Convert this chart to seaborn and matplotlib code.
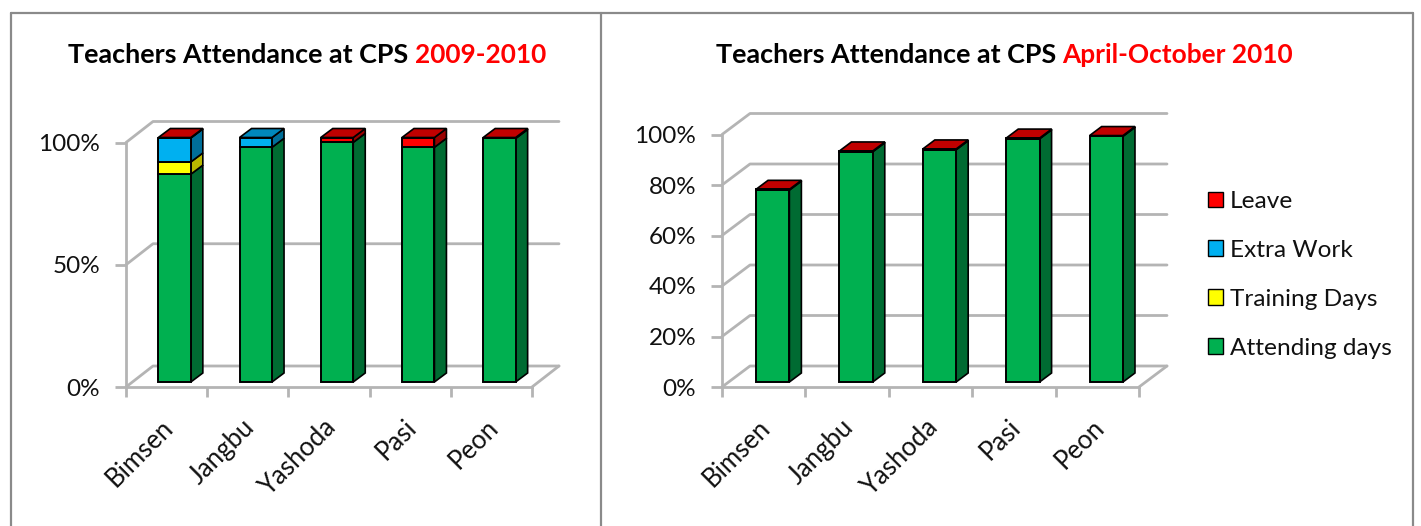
import matplotlib
matplotlib.use("Agg")
import matplotlib.pyplot as plt
import seaborn as sns
import numpy as np
from matplotlib.lines import Line2D
from matplotlib.patches import Polygon, Patch

W, H = 1421, 526

names = ["Bimsen", "Jangbu", "Yashoda", "Pasi", "Peon"]
series = ["Attending days", "Training Days", "Extra Work", "Leave"]

# first chart, 2009-2010
att_a = [85, 96, 98, 96, 99.6]
train_a = [5, 0, 0, 0, 0]
extra_a = [9.8, 4, 0, 0, 0]
leave_a = [0.2, 0, 2, 4, 0.4]

# second chart, April-October 2010
att_b = [76, 91.2, 92, 96.3, 97.3]
train_b = [0, 0, 0, 0, 0]
extra_b = [0, 0, 0, 0, 0]
leave_b = [0.3, 0.3, 0.3, 0.3, 0.3]

front = ["#00B050", "#FFFF00", "#00B0F0", "#FF0000"]
side = ["#006B32", "#B8B800", "#006E98", "#9A0000"]
top = ["#00C85A", "#D8D800", "#0088BC", "#C00000"]
wall = "#b4b4b4"
frame = "#8a8a8a"

sns.set_theme(style="white")
plt.rcParams["font.family"] = ["Lato", "DejaVu Sans"]

fig = plt.figure(figsize=(W / 100, H / 100), dpi=100)


def px_axes(x0, x1, y0, y1):
    return fig.add_axes([x0 / W, 1 - y0 / H, (x1 - x0) / W, (y0 - y1) / H])


def draw_panel(ax, stack, yticks, back, depth, shift):
    ax.set_xlim(-0.5, 4.5)
    ax.set_ylim(0, 100)
    bb = ax.get_position()
    sx = 5 / (bb.width * W)     # data units per pixel
    sy = 100 / (bb.height * H)

    # back wall and floor
    bx, by = back[0] * sx, back[1] * sy
    for v in yticks:
        ax.plot([-0.5, -0.5 + bx, 4.5 + bx], [v, v + by, v + by],
                color=wall, lw=2, clip_on=False, zorder=1)
    ax.plot([4.5, 4.5 + bx], [0, by], color=wall, lw=2, clip_on=False, zorder=1)

    bottoms = np.zeros(len(names))
    for i, vals in enumerate(stack):
        n = len(ax.patches)
        sns.barplot(x=names, y=vals, bottom=bottoms, color=front[i], saturation=1,
                    width=0.4, edgecolor="black", linewidth=1.4, ax=ax, zorder=3)
        dx, dy = shift[0] * sx, shift[1] * sy
        ox, oy = depth[0] * sx, depth[1] * sy
        for j, p in enumerate(ax.patches[n:]):
            p.set_clip_on(False)
            p.set_x(p.get_x() + dx)
            p.set_y(p.get_y() + dy)
            if vals[j] == 0:
                p.set_visible(False)
                continue
            x, y, w, h = p.get_x(), p.get_y(), p.get_width(), p.get_height()
            ax.add_patch(Polygon([(x + w, y), (x + w + ox, y + oy), (x + w + ox, y + h + oy), (x + w, y + h)],
                                 fc=side[i], ec="black", lw=1.2, clip_on=False, zorder=2.5))
            # only the highest non zero piece shows its lid
            if not any(stack[k][j] > 0 for k in range(i + 1, len(stack))):
                ax.add_patch(Polygon([(x, y + h), (x + ox, y + h + oy), (x + w + ox, y + h + oy), (x + w, y + h)],
                                     fc=top[i], ec="black", lw=1.2, clip_on=False, zorder=2.5))
        bottoms = bottoms + np.array(vals)

    ax.set_yticks(yticks)
    ax.set_yticklabels([f"{v}%" for v in yticks])
    ax.set_xticks(np.arange(-0.5, 5))
    ax.set_xticklabels([])
    # labels sit a little left of the slot centres
    ax.set_xticks(np.arange(5) - 6 * sx, names, minor=True)
    ax.tick_params(axis="x", which="major", length=7, width=2, color=wall, bottom=True)
    ax.tick_params(axis="x", which="minor", length=0, pad=20, labelsize=18.5, labelcolor="#111111")
    ax.tick_params(axis="y", length=8, width=2, color=wall, left=True, pad=10.5, labelsize=17.5, labelcolor="#111111")
    for lab in ax.get_xticklabels(minor=True):
        lab.set_rotation(45)
        lab.set_ha("right")
        lab.set_rotation_mode("anchor")
    ax.set_xlabel("")
    ax.set_ylabel("")
    ax.patch.set_alpha(0)
    for s in ["top", "right"]:
        ax.spines[s].set_visible(False)
    for s in ["left", "bottom"]:
        ax.spines[s].set_color(wall)
        ax.spines[s].set_linewidth(2)


ax1 = px_axes(126, 532, 387, 142.5)
draw_panel(ax1, [att_a, train_a, extra_a, leave_a], [0, 50, 100], (27, 21), (12, 9), (8, 5))

ax2 = px_axes(722, 1139, 387, 134.5)
draw_panel(ax2, [att_b, train_b, extra_b, leave_b], [0, 20, 40, 60, 80, 100], (28, 21), (12, 9), (9, 5))

# titles, second half in red
for x, first, second in [(68, "Teachers Attendance at CPS", "2009-2010"),
                         (716, "Teachers Attendance at CPS", "April-October 2010")]:
    t = fig.text(x / W, 1 - 63 / H, first, fontsize=19.4, fontweight="bold", color="black", va="baseline")
    fig.add_artist(plt.Annotation(second, xy=(1, 0), xycoords=t, xytext=(4.5, 0), textcoords="offset points",
                                  fontsize=18.9, fontweight="bold", color="#FF0000", va="bottom"))

# legend
handles = [Patch(fc=front[i], ec="black", lw=1, label=series[i]) for i in [3, 2, 1, 0]]
fig.legend(handles=handles, loc="upper left", bbox_to_anchor=(1208 / W, 1 - 191 / H), frameon=False,
           fontsize=17.6, handlelength=0.6, handleheight=0.6, handletextpad=0.3, labelspacing=1.14,
           labelcolor="#111111", borderpad=0, borderaxespad=0)

# outer frame of the two panels
for xs, ys in [((11, 11), (526, 13)), ((11, 1413), (13, 13)), ((601, 601), (526, 13)), ((1413, 1413), (526, 13))]:
    fig.add_artist(Line2D([x / W for x in xs], [1 - y / H for y in ys], color=frame, lw=1.6))

fig.savefig("out.png", dpi=100)
